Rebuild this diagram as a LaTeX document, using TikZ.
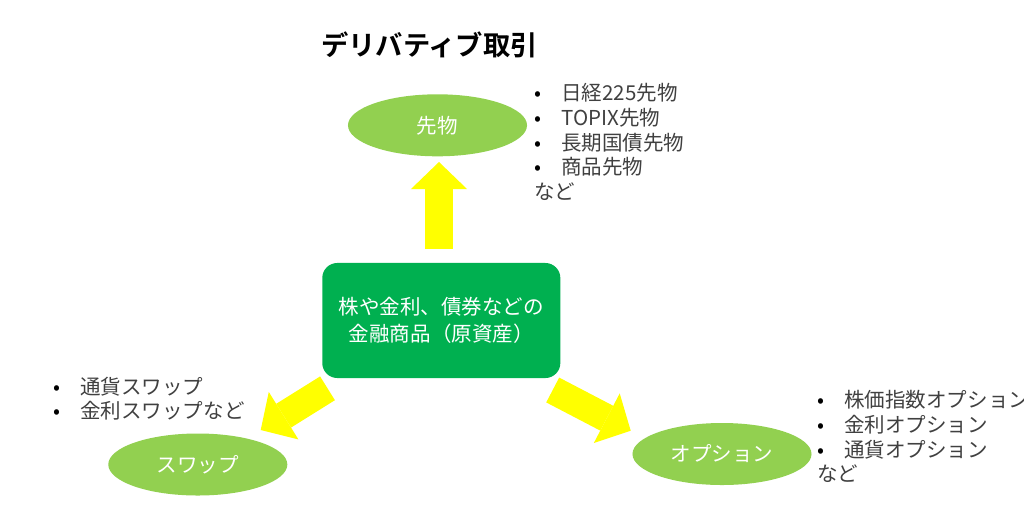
\documentclass[tikz,border=0pt]{standalone}
\usepackage{fontspec}
\setmainfont{Noto Sans CJK JP}[BoldFont={Noto Sans CJK JP Bold}]
\usetikzlibrary{arrows.meta,shapes.geometric}
\definecolor{leafgreen}{HTML}{92D050}
\definecolor{basegreen}{HTML}{00B050}
\definecolor{arrowyellow}{HTML}{FFFF00}
\definecolor{listgray}{HTML}{404040}
\newcommand\bodysize{\fontsize{14.6pt}{17.6pt}\selectfont}
\newcommand\bl{\makebox[0.675cm][l]{\textcolor{black}{•}}}
\tikzset{
  leaf/.style={ellipse, fill=leafgreen, text=white, inner sep=0pt,
    minimum width=4.475cm, minimum height=1.55cm, font=\bodysize},
  asset/.style={rectangle, rounded corners=0.375cm, fill=basegreen, text=white,
    minimum width=5.95cm, minimum height=2.875cm, align=center,
    font=\fontsize{14.6pt}{19.2pt}\selectfont},
  itemlist/.style={anchor=north west, inner sep=0pt, align=left,
    text=listgray, font=\bodysize},
  bigarrow/.style={color=arrowyellow, line width=0.7cm,
    -{Triangle[width=1.4cm, length=0.675cm, line width=0pt, fill=arrowyellow]}}
}
\begin{document}
\begin{tikzpicture}[x=0.025cm, y=-0.025cm]
   \useasboundingbox (0,0) rectangle (1024,527);
   \node (T) at (429.5,45) [font=\fontsize{19.4pt}{22pt}\selectfont\bfseries] {デリバティブ取引};
   \node (U) at (441.3,320.5) [asset] {株や金利、債券などの\\金融商品（原資産）};
   \node (F) at (437.5,125.3) [leaf] {先物};
   \node (S) at (197.8,464.5) [leaf] {スワップ};
   \node (O) at (722,454) [leaf] {オプション};
   % lists beside the ellipses
   \node (Fl) at (534,83) [itemlist]
     {\bl 日経225先物\\ \bl TOPIX先物\\ \bl 長期国債先物\\ \bl 商品先物\\ など};
   \node (Sl) at (53,376.5) [itemlist]
     {\bl 通貨スワップ\\ \bl 金利スワップなど};
   \node (Ol) at (817,390) [itemlist]
     {\bl 株価指数オプション\\ \bl 金利オプション\\ \bl 通貨オプション\\ など};
   % yellow block arrows
   \coordinate (Ft) at (439,249);
   \coordinate (Fh) at (439,162);
   \coordinate (St) at (327.5,388.3);
   \coordinate (Sh) at (260.7,430);
   \coordinate (Ot) at (552.7,390);
   \coordinate (Oh) at (630.7,430.7);
   \path[bigarrow]
     (Ft) edge (Fh)
     (St) edge (Sh)
     (Ot) edge (Oh);
  \end{tikzpicture}
\end{document}
